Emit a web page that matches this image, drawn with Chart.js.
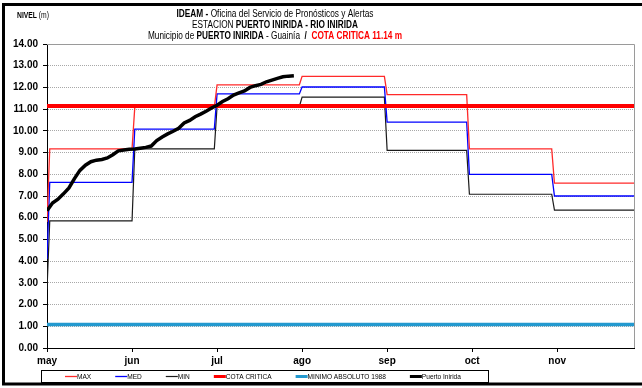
<!DOCTYPE html>
<html>
<head>
<meta charset="utf-8">
<script src="https://cdn.jsdelivr.net/npm/chart.js@4/dist/chart.umd.min.js"></script>
<style>
  html, body { margin: 0; padding: 0; background: #fff; }
  canvas { display: block; }
</style>
</head>
<body>
<canvas id="nivel" width="642" height="388"></canvas>
<script>
// day index (from 1 May) where each month begins, and end of the axis (1 Dec)
const monthStart = [0, 31, 61, 92, 123, 153, 184];
const dayEnd = 214;
const monthLabels = ['may', 'jun', 'jul', 'ago', 'sep', 'oct', 'nov'];

// historic monthly levels (m); first value of each series is day 1
const maxFirstDay = 5.8;
const maxLevels = [9.17, 11.08, 12.12, 12.51, 11.67, 9.17, 7.59];
const medFirstDay = 4.1;
const medLevels = [7.63, 10.08, 11.7, 12.02, 10.4, 8.0, 7.0];
const minFirstDay = 2.7;
const minLevels = [5.85, 9.17, 11.12, 11.55, 9.1, 7.08, 6.35];

const cotaCritica = 11.14;
const minimoAbsoluto = 1.08;

// observed levels at Puerto Inirida, one reading every 2 days from 1 May
const obsEvery = 2;
const obsLevels = [
  6.32, 6.68, 6.85, 7.10, 7.37, 7.80, 8.18, 8.42, 8.58, 8.65,
  8.68, 8.75, 8.90, 9.08, 9.12, 9.15, 9.16, 9.20, 9.24, 9.30,
  9.55, 9.72, 9.86, 9.98, 10.12, 10.36, 10.48, 10.65, 10.77, 10.90,
  11.05, 11.18, 11.35, 11.48, 11.65, 11.75, 11.84, 12.00, 12.08, 12.14,
  12.26, 12.34, 12.42, 12.49, 12.52, 12.54
];

function stepSeries(first, levels) {
  const pts = [{ x: monthStart[0], y: first }];
  levels.forEach((v, i) => {
    if (i > 0) pts.push({ x: monthStart[i], y: levels[i - 1] });
    pts.push({ x: monthStart[i] + 1, y: v });
  });
  pts.push({ x: dayEnd, y: levels[levels.length - 1] });
  return pts;
}

function flat(v) {
  return [{ x: 0, y: v }, { x: dayEnd, y: v }];
}

const SANS = '"Liberation Sans", Arial, sans-serif';

function richLine(ctx, runs, cx, y, size, width) {
  let total = 0;
  runs.forEach(r => {
    ctx.font = (r.bold ? 'bold ' : '') + size + 'px ' + SANS;
    r.w = ctx.measureText(r.text).width;
    total += r.w;
  });
  ctx.save();
  ctx.translate(cx - width / 2, y);
  ctx.scale(width / total, 1);
  ctx.textBaseline = 'middle';
  let x = 0;
  runs.forEach(r => {
    ctx.font = (r.bold ? 'bold ' : '') + size + 'px ' + SANS;
    ctx.fillStyle = r.color || '#000';
    ctx.fillText(r.text, x, 0);
    x += r.w;
  });
  ctx.restore();
}

const decorations = {
  id: 'decorations',
  beforeDatasetsDraw(chart) {
    const { ctx, chartArea: a } = chart;
    ctx.save();
    ctx.strokeStyle = '#9a9a9a';
    ctx.lineWidth = 1;
    ctx.beginPath();
    ctx.moveTo(a.left, a.top + 0.5);
    ctx.lineTo(a.right + 0.5, a.top + 0.5);
    ctx.lineTo(a.right + 0.5, a.bottom);
    ctx.stroke();
    ctx.restore();
  },
  afterDraw(chart) {
    const ctx = chart.ctx;

    // outer frame
    ctx.save();
    ctx.strokeStyle = '#000';
    ctx.lineWidth = 3;
    ctx.beginPath();
    ctx.moveTo(642, 4.5);
    ctx.lineTo(3.5, 4.5);
    ctx.lineTo(3.5, 384);
    ctx.lineTo(642, 384);
    ctx.stroke();
    ctx.restore();

    // titles
    richLine(ctx, [
      { text: 'IDEAM - ', bold: true },
      { text: 'Oficina del Servicio de Pronósticos y Alertas' }
    ], 275, 14, 10, 197);
    richLine(ctx, [
      { text: 'ESTACION ' },
      { text: 'PUERTO INIRIDA - RIO INIRIDA', bold: true }
    ], 275, 25, 10, 166);
    richLine(ctx, [
      { text: 'Municipio de ' },
      { text: 'PUERTO INIRIDA', bold: true },
      { text: ' - Guainía ' },
      { text: ' /  ', bold: true },
      { text: 'COTA CRITICA 11.14 m', bold: true, color: '#ff0000' }
    ], 275, 36.5, 10, 254);

    richLine(ctx, [
      { text: 'NIVEL ', bold: true },
      { text: '(m)' }
    ], 33, 16, 8.5, 32);

    // legend
    ctx.save();
    ctx.strokeStyle = '#000';
    ctx.lineWidth = 1;
    ctx.strokeRect(41.5, 370.5, 447, 12);
    const ly = 376.5;
    let x = 65;
    chart.data.datasets.forEach(ds => {
      ctx.strokeStyle = ds.borderColor;
      ctx.lineWidth = Math.min(ds.borderWidth, 3);
      ctx.beginPath();
      ctx.moveTo(x, ly);
      ctx.lineTo(x + 12, ly);
      ctx.stroke();
      ctx.font = '8px ' + SANS;
      const w = ctx.measureText(ds.label).width * 0.82;
      ctx.save();
      ctx.translate(x + 12, ly);
      ctx.scale(0.82, 1);
      ctx.fillStyle = '#000';
      ctx.textBaseline = 'middle';
      ctx.fillText(ds.label, 0, 0.5);
      ctx.restore();
      x += 12 + w + 24;
    });
    ctx.restore();
  }
};

new Chart(document.getElementById('nivel'), {
  type: 'line',
  data: {
    datasets: [
      { label: 'MAX', data: stepSeries(maxFirstDay, maxLevels), borderColor: '#ff2a2a', borderWidth: 1.3, order: 3 },
      { label: 'MED', data: stepSeries(medFirstDay, medLevels), borderColor: '#0000ff', borderWidth: 1.3, order: 4 },
      { label: 'MIN', data: stepSeries(minFirstDay, minLevels), borderColor: '#1a1a1a', borderWidth: 1.2, order: 5 },
      { label: 'COTA CRITICA', data: flat(cotaCritica), borderColor: '#ff0000', borderWidth: 4, order: 1 },
      { label: 'MINIMO ABSOLUTO 1988', data: flat(minimoAbsoluto), borderColor: '#2399cf', borderWidth: 3.5, order: 2 },
      { label: 'Puerto Inirida', data: obsLevels.map((v, i) => ({ x: i * obsEvery, y: v })), borderColor: '#000', borderWidth: 3.5, order: 0 }
    ]
  },
  options: {
    responsive: false,
    animation: false,
    devicePixelRatio: 1,
    layout: { padding: { top: 44, right: 8, left: 0, bottom: 0 } },
    elements: {
      point: { radius: 0 },
      line: { tension: 0, fill: false, borderCapStyle: 'butt' }
    },
    plugins: { legend: { display: false }, tooltip: { enabled: false } },
    scales: {
      x: {
        type: 'linear',
        min: 0,
        max: dayEnd,
        afterFit: s => { s.height = 40; },
        border: { color: '#000', width: 1 },
        grid: { drawOnChartArea: false, drawTicks: true, tickLength: 4, tickColor: '#000' },
        ticks: {
          stepSize: 31,
          includeBounds: false,
          autoSkip: false,
          maxRotation: 0,
          padding: 3,
          color: '#000',
          font: { family: SANS, size: 10, weight: 'bold' },
          callback: v => monthLabels[Math.round(v / 31)] || ''
        }
      },
      y: {
        min: 0,
        max: 14,
        afterFit: s => { s.width = 47; },
        border: { color: '#000', width: 1, dash: [1, 1] },
        grid: { color: '#a8a8a8', tickLength: 4, tickColor: '#000', tickBorderDash: [] },
        ticks: {
          stepSize: 1,
          padding: 5,
          color: '#000',
          font: { family: SANS, size: 10, weight: 'bold' },
          callback: v => v.toFixed(2)
        }
      }
    }
  },
  plugins: [decorations]
});
</script>
</body>
</html>
